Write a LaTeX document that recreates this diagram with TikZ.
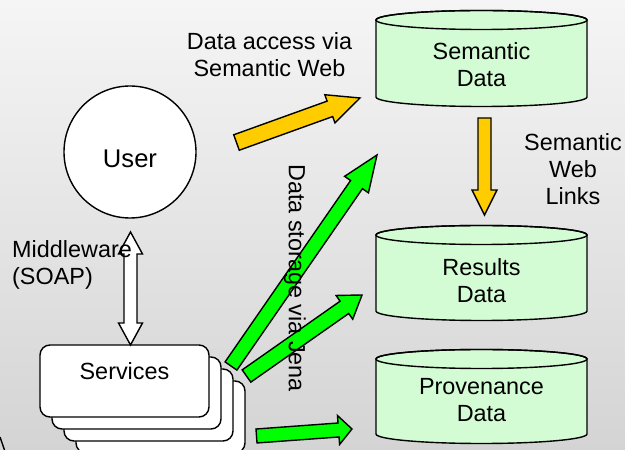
\documentclass[tikz,border=0pt]{standalone}
\usepackage{fontspec}
\setmainfont{Liberation Sans}
\usetikzlibrary{calc}
\definecolor{dbgreen}{RGB}{212,252,212}
\definecolor{arrowyellow}{RGB}{255,204,0}
\definecolor{arrowgreen}{RGB}{0,255,0}
\definecolor{bgtop}{RGB}{245,245,245}
\definecolor{bgbottom}{RGB}{212,212,212}

\tikzset{
  outline/.style={draw=black, line width=1.4pt, line join=miter},
  dbshape/.style={outline, fill=dbgreen},
  txt/.style={inner sep=0pt, align=center},
  yellowarrow/.style={outline, fill=arrowyellow},
  greenarrow/.style={outline, fill=arrowgreen},
  whitearrow/.style={outline, fill=white},
  servbox/.style={outline, fill=white, rounded corners=10pt, minimum width=169pt, minimum height=72pt, inner sep=0pt},
  usercircle/.style={outline, fill=white, circle, minimum size=132pt, inner sep=0pt},
}

% #1 name, #2 centre x, #3 top ellipse y, #4 bottom ellipse y, #5 text y, #6 text
\newcommand{\dbcylinder}[6]{%
  \filldraw[dbshape] (#2-105.5,#3) -- (#2-105.5,#4)
     arc[start angle=180,end angle=360,x radius=105.5,y radius=9.5]
     -- (#2+105.5,#3)
     arc[start angle=0,end angle=180,x radius=105.5,y radius=9.5] -- cycle;
  \draw[outline] (#2,#3) ellipse[x radius=105.5,y radius=9.5];
  \node[txt] (#1) at (#2,#5) {#6};
}

% #1 style, #2 tail, #3 tip, #4 shaft half width, #5 head half width, #6 head length
\newcommand{\blockarrow}[6]{%
  \coordinate (hb) at ($(#3)!#6!(#2)$);
  \path[#1] ($(#2)!#4!90:(#3)$) -- ($(hb)!#4!90:(#3)$) -- ($(hb)!#5!90:(#3)$)
    -- (#3) -- ($(hb)!#5!-90:(#3)$) -- ($(hb)!#4!-90:(#3)$)
    -- ($(#2)!#4!-90:(#3)$) -- cycle;
}

% #1 style, #2 end A, #3 end B, #4 shaft half, #5 head half, #6 head length
\newcommand{\doublearrow}[6]{%
  \coordinate (ha) at ($(#3)!#6!(#2)$);
  \coordinate (hz) at ($(#2)!#6!(#3)$);
  \path[#1] (#3) -- ($(ha)!#5!90:(#3)$) -- ($(ha)!#4!90:(#3)$)
    -- ($(hz)!#4!90:(#3)$) -- ($(hz)!#5!90:(#3)$) -- (#2)
    -- ($(hz)!#5!-90:(#3)$) -- ($(hz)!#4!-90:(#3)$)
    -- ($(ha)!#4!-90:(#3)$) -- ($(ha)!#5!-90:(#3)$) -- cycle;
}

\begin{document}
\begin{tikzpicture}[x=1pt, y=1pt, font=\fontsize{23.4}{27}\selectfont]
  \useasboundingbox (0,0) rectangle (625,450);
  \shade[top color=bgtop, bottom color=bgbottom] (0,0) rectangle (625,450);

  % fragment of an outline at the bottom-left corner
  \draw[line width=1.4pt] (0,13) -- (4.5,0);

  % databases
  \dbcylinder{sem}{481.5}{430}{353}{385.5}{Semantic\\Data}
  \dbcylinder{res}{481.5}{215}{139}{169}{Results\\Data}
  \dbcylinder{prov}{481.5}{91}{16}{50}{Provenance\\Data}

  % user
  \node[usercircle, label={[txt, font=\fontsize{25.6}{30}\selectfont, yshift=-7pt]center:User}] (user) at (130,298) {};

  % services stack
  \node[servbox] (serv4) at (160.5,33) {};
  \node[servbox] (serv3) at (148.5,45) {};
  \node[servbox] (serv2) at (136.5,57) {};
  \node[servbox, label={[txt, yshift=9.5pt]center:Services}] (serv) at (124.5,69) {};

  % arrow end points
  \coordinate (ya1) at (236.5,307.5);
  \coordinate (ya2) at (360,352);
  \coordinate (yb1) at (484.5,332);
  \coordinate (yb2) at (484.5,235);
  \coordinate (ga1) at (231,84);
  \coordinate (ga2) at (377,295);
  \coordinate (gb1) at (246.5,74);
  \coordinate (gb2) at (362,155);
  \coordinate (gc1) at (256.5,14);
  \coordinate (gc2) at (352,21);
  \coordinate (mw1) at (130.5,105);
  \coordinate (mw2) at (130.5,218);

  % arrows
  \blockarrow{yellowarrow}{ya1}{ya2}{8.2pt}{15pt}{32pt}
  \blockarrow{yellowarrow}{yb1}{yb2}{6.5pt}{12.5pt}{25pt}
  \blockarrow{greenarrow}{ga1}{ga2}{7.2pt}{14.5pt}{36pt}
  \blockarrow{greenarrow}{gb1}{gb2}{7.5pt}{14.5pt}{21.5pt}
  \blockarrow{greenarrow}{gc1}{gc2}{7pt}{14.5pt}{13.5pt}
  \doublearrow{whitearrow}{mw1}{mw2}{6.5pt}{12pt}{22pt}

  % labels
  \node[txt] (lblaccess) at (269.5,395) {Data access via\\Semantic Web};
  \node[txt] (lbllinks) at (573,281) {Semantic\\Web\\Links};
  \node[txt, align=left, anchor=west] (lblmw) at (12,185.5) {Middleware\\(SOAP)};
  \node[txt, rotate=-90] (lbljena) at (295,172) {Data storage via Jena};
\end{tikzpicture}
\end{document}
